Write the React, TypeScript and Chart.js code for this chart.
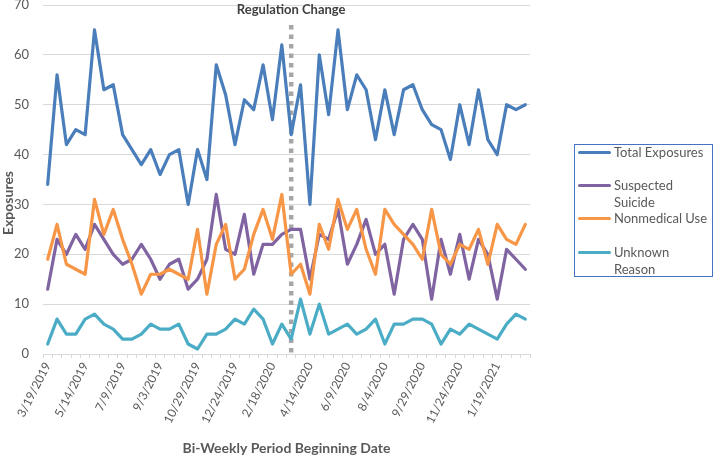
import React, { useEffect, useRef } from "react";
import { Chart, registerables } from "chart.js";

Chart.register(...registerables);

// ---- Data ----
const periods = [
  "3/19/2019", "4/2/2019", "4/16/2019", "4/30/2019", "5/14/2019", "5/28/2019", "6/11/2019", "6/25/2019",
  "7/9/2019", "7/23/2019", "8/6/2019", "8/20/2019", "9/3/2019", "9/17/2019", "10/1/2019", "10/15/2019",
  "10/29/2019", "11/12/2019", "11/26/2019", "12/10/2019", "12/24/2019", "1/7/2020", "1/21/2020", "2/4/2020",
  "2/18/2020", "3/3/2020", "3/17/2020", "3/31/2020", "4/14/2020", "4/28/2020", "5/12/2020", "5/26/2020",
  "6/9/2020", "6/23/2020", "7/7/2020", "7/21/2020", "8/4/2020", "8/18/2020", "9/1/2020", "9/15/2020",
  "9/29/2020", "10/13/2020", "10/27/2020", "11/10/2020", "11/24/2020", "12/8/2020", "12/22/2020", "1/5/2021",
  "1/19/2021", "2/2/2021", "2/16/2021", "3/2/2021",
];

const totalExposures = [
  34, 56, 42, 45, 44, 65, 53, 54, 44, 41, 38, 41, 36, 40, 41, 30, 41, 35, 58, 52, 42, 51, 49, 58, 47, 62,
  44, 54, 30, 60, 48, 65, 49, 56, 53, 43, 53, 44, 53, 54, 49, 46, 45, 39, 50, 42, 53, 43, 40, 50, 49, 50,
];

const suspectedSuicide = [
  13, 23, 20, 24, 21, 26, 23, 20, 18, 19, 22, 19, 15, 18, 19, 13, 15, 19, 32, 21, 20, 28, 16, 22, 22, 24,
  25, 25, 15, 24, 23, 29, 18, 22, 27, 20, 22, 12, 23, 26, 23, 11, 23, 16, 24, 15, 23, 20, 11, 21, 19, 17,
];

const nonmedicalUse = [
  19, 26, 18, 17, 16, 31, 24, 29, 23, 18, 12, 16, 16, 17, 16, 15, 25, 12, 22, 26, 15, 17, 24, 29, 23, 32,
  16, 18, 12, 26, 21, 31, 25, 29, 21, 16, 29, 26, 24, 22, 19, 29, 20, 18, 22, 21, 25, 18, 26, 23, 22, 26,
];

const unknownReason = [
  2, 7, 4, 4, 7, 8, 6, 5, 3, 3, 4, 6, 5, 5, 6, 2, 1, 4, 4, 5, 7, 6, 9, 7, 2, 6,
  3, 11, 4, 10, 4, 5, 6, 4, 5, 7, 2, 6, 6, 7, 7, 6, 2, 5, 4, 6, 5, 4, 3, 6, 8, 7,
];

const seriesNames = ["Total Exposures", "Suspected Suicide", "Nonmedical Use", "Unknown Reason"];
const legendLines = [["Total Exposures"], ["Suspected", "Suicide"], ["Nonmedical Use"], ["Unknown", "Reason"]];
const yMin = 0;
const yMax = 70;
const yStep = 10;
const labelEvery = 4;
const regulationIndex = 26;
const regulationLabel = "Regulation Change";
const xTitle = "Bi-Weekly Period Beginning Date";
const yTitle = "Exposures";

// ---- Styles ----
const colors = ["#4A7EBB", "#8064A2", "#F79646", "#4BACC6"];
const FONT = 'Lato, "Open Sans", "Liberation Sans", sans-serif';
const TEXT = "#595959";
const GRID = "#D9D9D9";

const annotatePlugin = {
  id: "annotate",
  beforeDatasetsDraw(chart: any) {
    const { ctx, chartArea, scales } = chart;
    const x = scales.x.getPixelForValue(regulationIndex);
    ctx.save();
    ctx.strokeStyle = "#A6A6A6";
    ctx.lineWidth = 4.5;
    ctx.setLineDash([4.5, 5]);
    ctx.beginPath();
    ctx.moveTo(x, 25);
    ctx.lineTo(x, chartArea.bottom);
    ctx.stroke();
    ctx.restore();
  },
  afterDraw(chart: any) {
    const { ctx, chartArea, scales } = chart;
    const x = scales.x.getPixelForValue(regulationIndex);
    ctx.save();
    ctx.fillStyle = "#404040";
    ctx.font = `bold 13px ${FONT}`;
    ctx.textAlign = "center";
    ctx.textBaseline = "middle";
    ctx.fillText(regulationLabel, x, 10);

    ctx.fillStyle = TEXT;
    ctx.font = `bold 14px ${FONT}`;
    ctx.fillText(xTitle, (chartArea.left + chartArea.right) / 2, 448);

    ctx.translate(8, 203);
    ctx.rotate(-Math.PI / 2);
    ctx.fillText(yTitle, 0, 0);
    ctx.restore();
  },
};

function Legend() {
  const entryY = [152, 185, 218, 252];
  const lineGap = 17.5;
  const boxLeft = 574;
  const boxTop = 144;
  return (
    <div
      style={{
        position: "absolute",
        left: boxLeft,
        top: boxTop,
        width: 139,
        height: 133,
        border: "1px solid #4472C4",
        boxSizing: "border-box",
        fontFamily: FONT,
        fontSize: 13,
        color: TEXT,
      }}
    >
      {seriesNames.map((name, i) => (
        <React.Fragment key={name}>
          <div
            style={{
              position: "absolute",
              left: 3,
              top: entryY[i] - boxTop - 2.5,
              width: 33,
              height: 3,
              background: colors[i],
              borderRadius: 1.5,
            }}
          />
          {legendLines[i].map((line, j) => (
            <div
              key={line}
              style={{
                position: "absolute",
                left: 39,
                top: entryY[i] + j * lineGap - boxTop - 9.5,
                height: 17,
                lineHeight: "17px",
                whiteSpace: "nowrap",
              }}
            >
              {line}
            </div>
          ))}
        </React.Fragment>
      ))}
    </div>
  );
}

export default function App() {
  const canvasRef = useRef<HTMLCanvasElement | null>(null);

  useEffect(() => {
    if (!canvasRef.current) return;
    const seriesData = [totalExposures, suspectedSuicide, nonmedicalUse, unknownReason];
    const chart = new Chart(canvasRef.current, {
      type: "line",
      data: {
        labels: periods,
        datasets: seriesData.map((d, i) => ({
          label: seriesNames[i],
          data: d,
          borderColor: colors[i],
          backgroundColor: colors[i],
          borderWidth: 3.2,
          pointRadius: 0,
          tension: 0,
          borderJoinStyle: "round" as const,
          borderCapStyle: "round" as const,
          order: 4 - i,
        })),
      },
      plugins: [annotatePlugin],
      options: {
        responsive: false,
        animation: false,
        layout: { padding: { top: 5, right: 184, bottom: 0, left: 0 } },
        plugins: {
          legend: { display: false },
          tooltip: { enabled: false },
          title: { display: false },
        },
        scales: {
          x: {
            type: "category",
            offset: true,
            grid: {
              display: true,
              drawOnChartArea: false,
              drawTicks: true,
              tickLength: 4,
              color: GRID,
              offset: true,
            },
            border: { display: true, color: GRID, width: 1 },
            ticks: {
              autoSkip: false,
              minRotation: 63,
              maxRotation: 63,
              padding: 2,
              color: TEXT,
              font: { family: FONT, size: 12 },
              callback: (_v: any, index: number) => (index % labelEvery === 0 ? periods[index] : ""),
            },
            afterFit: (scale: any) => {
              scale.height = 102;
              scale.paddingLeft = 0;
              scale.paddingRight = 0;
            },
          },
          y: {
            min: yMin,
            max: yMax,
            grid: { color: GRID, drawTicks: false, lineWidth: 1 },
            border: { display: false },
            ticks: {
              stepSize: yStep,
              padding: 14,
              color: TEXT,
              font: { family: FONT, size: 13 },
            },
            afterFit: (scale: any) => {
              scale.width = 43;
              scale.paddingTop = 0;
              scale.paddingBottom = 0;
            },
          },
        },
      },
    });
    return () => chart.destroy();
  }, []);

  return (
    <div style={{ position: "absolute", left: 0, top: 0, width: 714, height: 456, background: "#fff" }}>
      <canvas ref={canvasRef} width={714} height={456} style={{ display: "block" }} />
      <Legend />
    </div>
  );
}
